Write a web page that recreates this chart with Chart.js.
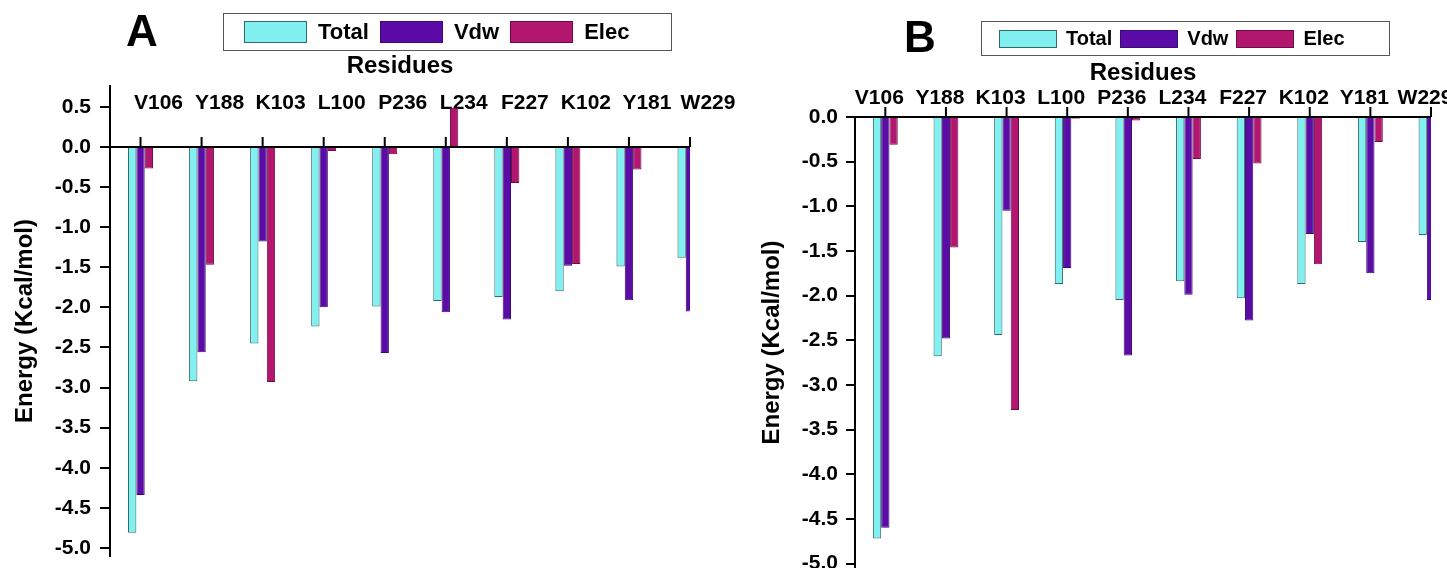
<!DOCTYPE html>
<html>
<head>
<meta charset="utf-8">
<script src="https://cdn.jsdelivr.net/npm/chart.js@4/dist/chart.umd.min.js"></script>
<style>
    html, body { margin: 0; padding: 0; background: #fff; }
    body { width: 1447px; height: 568px; position: relative; overflow: hidden; font-family: 'Liberation Sans', Arial, sans-serif; }
    .panel { position: absolute; top: 0; }
    .letter { position: absolute; font-weight: bold; font-size: 44px; line-height: 44px; color: #000; }
    .legend { position: absolute; border: 1.5px solid #555; box-sizing: border-box; display: flex; align-items: center; font-weight: bold; color: #000; }
    .legend .item { display: flex; align-items: center; }
    .legend .swatch { box-sizing: border-box; border: 1px solid #333; }
</style>
</head>
<body>

<div class="panel" style="left:0;width:745px;height:568px"><canvas id="chart-a" width="745" height="568"></canvas></div>
<div class="panel" style="left:720px;width:727px;height:568px"><canvas id="chart-b" width="727" height="568"></canvas></div>

<div class="letter" style="left:126px;top:9px">A</div>
<div class="letter" style="left:904px;top:15px">B</div>

<div id="legend-a" class="legend" style="left:223px;top:13px;width:449px;height:38px;padding-left:20px;font-size:22px"></div>
<div id="legend-b" class="legend" style="left:981px;top:21px;width:409px;height:35px;padding-left:17px;font-size:20px"></div>

<script>
// ===================================================
// DATA
// ===================================================

const residues = ['V106', 'Y188', 'K103', 'L100', 'P236', 'L234', 'F227', 'K102', 'Y181', 'W229'];
const seriesNames = ['Total', 'Vdw', 'Elec'];

// Panel A
const totalA = [-4.81, -2.92, -2.45, -2.24, -1.99, -1.92, -1.87, -1.80, -1.49, -1.38];
const vdwA   = [-4.34, -2.56, -1.18, -2.00, -2.57, -2.06, -2.15, -1.48, -1.91, -2.05];
const elecA  = [-0.27, -1.47, -2.93, -0.05, -0.09, 0.49, -0.45, -1.46, -0.28, 0.00];

// Panel B
const totalB = [-4.72, -2.68, -2.44, -1.87, -2.05, -1.84, -2.03, -1.87, -1.40, -1.32];
const vdwB   = [-4.60, -2.48, -1.05, -1.69, -2.67, -1.99, -2.28, -1.31, -1.75, -2.05];
const elecB  = [-0.31, -1.46, -3.28, -0.02, -0.04, -0.47, -0.52, -1.65, -0.28, 0.00];

const yTicksA = [0.5, 0.0, -0.5, -1.0, -1.5, -2.0, -2.5, -3.0, -3.5, -4.0, -4.5, -5.0];
const yTicksB = [0.0, -0.5, -1.0, -1.5, -2.0, -2.5, -3.0, -3.5, -4.0, -4.5, -5.0];

// ===================================================
// STYLE
// ===================================================

const fills   = ['#82eff0', '#5b0ca6', '#b3166f'];
const borders = ['#2f6b6b', '#3b0a72', '#6b0c45'];
const FONT = "'Liberation Sans', Arial, sans-serif";

// zero line with upward ticks at every residue
const zeroAxis = {
    id: 'zeroAxis',
    afterDatasetsDraw(chart) {
        const { ctx, chartArea, scales: { x, y } } = chart;
        const y0 = y.getPixelForValue(0);
        ctx.save();
        ctx.strokeStyle = '#000';
        ctx.lineWidth = 2;
        ctx.beginPath();
        ctx.moveTo(chartArea.left, y0);
        ctx.lineTo(chartArea.right, y0);
        residues.forEach((r, i) => {
            const px = x.getPixelForValue(i);
            ctx.moveTo(px, y0);
            ctx.lineTo(px, y0 - 10);
        });
        ctx.stroke();
        ctx.restore();
    }
};

// ===================================================
// CHARTS
// ===================================================

function crearPanel(canvasId, legendId, series, p) {
    const datasets = series.map((vals, k) => ({
        label: seriesNames[k],
        data: vals.map((v, i) => ({ x: i, y: v })),
        backgroundColor: fills[k],
        borderColor: borders[k],
        borderWidth: 1,
        categoryPercentage: 0.41,
        barPercentage: 1.0
    }));

    const chart = new Chart(document.getElementById(canvasId), {
        type: 'bar',
        data: { datasets },
        plugins: [zeroAxis],
        options: {
            responsive: false,
            animation: false,
            layout: { padding: p.padding },
            plugins: { legend: { display: false }, tooltip: { enabled: false } },
            scales: {
                x: {
                    type: 'linear',
                    position: p.xPos,
                    min: -0.5,
                    max: 9,
                    offset: false,
                    grid: { display: false, drawTicks: false, offset: false },
                    border: { display: false },
                    afterBuildTicks: s => { s.ticks = residues.map((r, i) => ({ value: i })); },
                    afterFit: s => { s.height = p.xHeight; s.paddingLeft = 0; s.paddingRight = 0; },
                    ticks: {
                        autoSkip: false,
                        maxRotation: 0,
                        padding: p.xPad,
                        labelOffset: p.xShift,
                        color: '#000',
                        font: { family: FONT, size: 21, weight: 'bold' },
                        callback: v => residues[v]
                    },
                    title: {
                        display: true,
                        text: 'Residues',
                        color: '#000',
                        padding: p.xTitlePad,
                        font: { family: FONT, size: 24, weight: 'bold' }
                    }
                },
                y: {
                    min: p.yMin,
                    max: p.yMax,
                    afterBuildTicks: s => { s.ticks = p.yTicks.map(v => ({ value: v })); },
                    afterFit: s => { s.width = p.yWidth; s.paddingTop = 0; s.paddingBottom = 0; },
                    grid: { drawOnChartArea: false, tickLength: p.tickLen, color: '#000', lineWidth: 2 },
                    border: { display: true, color: '#000', width: 2 },
                    ticks: {
                        padding: p.yPad,
                        color: '#000',
                        font: { family: FONT, size: 21, weight: 'bold' },
                        callback: v => Number(v).toFixed(1)
                    },
                    title: {
                        display: true,
                        text: 'Energy (Kcal/mol)',
                        color: '#000',
                        padding: { top: p.titlePad, bottom: 0 },
                        font: { family: FONT, size: 24, weight: 'bold' }
                    }
                }
            }
        }
    });

    // leyenda HTML con los colores de los datasets
    const leg = document.getElementById(legendId);
    leg.innerHTML = chart.data.datasets.map(ds => `
        <div class="item" style="margin-right:${p.legGap}px">
            <div class="swatch" style="width:${p.sw[0]}px;height:${p.sw[1]}px;background:${ds.backgroundColor};border-color:${ds.borderColor}"></div>
            <span style="margin-left:${p.legText}px">${ds.label}</span>
        </div>`).join('');
    return chart;
}

// Panel A: residue labels sit inside the plot, just above the 0.5 tick
crearPanel('chart-a', 'legend-a', [totalA, vdwA, elecA], {
    padding: { top: 86, bottom: 12, left: 0, right: 55 },
    xPos: { y: 0.706 }, xHeight: 0, xPad: 0, xShift: 18, xTitlePad: { top: 0, bottom: 10 },
    yMin: -5.1, yMax: 0.76, yTicks: yTicksA,
    yWidth: 110, yPad: 9, tickLen: 10, titlePad: 11,
    sw: [63, 22], legGap: 11, legText: 11
});

crearPanel('chart-b', 'legend-b', [totalB, vdwB, elecB], {
    padding: { top: 59, bottom: 0, left: 0, right: 16 },
    xPos: 'top', xHeight: 58, xPad: 6, xShift: -6, xTitlePad: 0,
    yMin: -5.05, yMax: 0, yTicks: yTicksB,
    yWidth: 135, yPad: 8, tickLen: 9, titlePad: 38,
    sw: [58, 18], legGap: 8, legText: 9
});
</script>
</body>
</html>
